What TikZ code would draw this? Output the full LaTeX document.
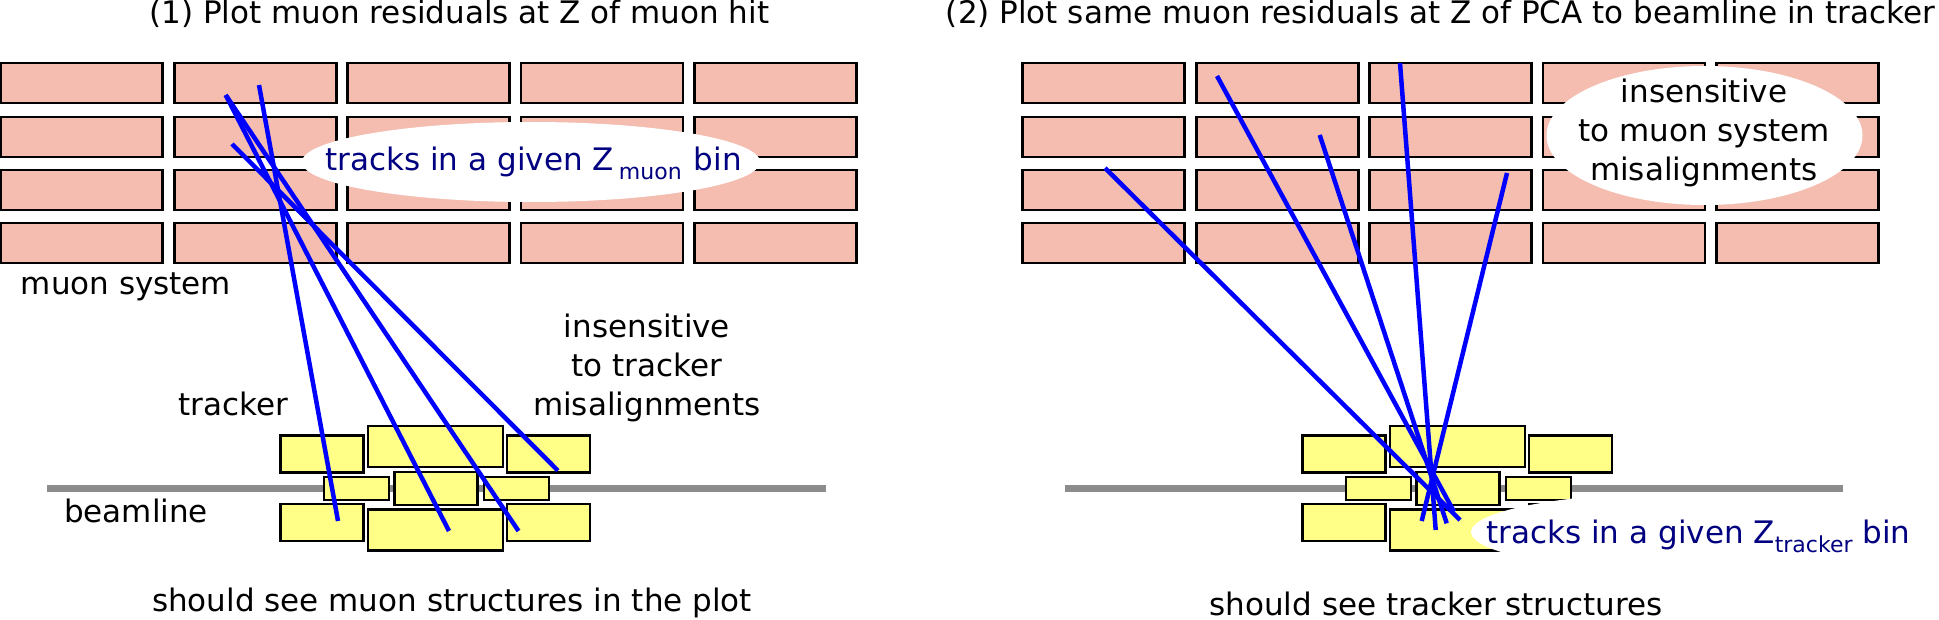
\documentclass[tikz,border=0pt]{standalone}
\usepackage{fontspec}
\usetikzlibrary{shapes.geometric}
\setmainfont{DejaVu Sans}
\definecolor{muonred}{HTML}{F4BDB0}
\definecolor{trackeryellow}{HTML}{FFFF88}
\definecolor{binblue}{HTML}{000080}
\newcommand{\binsub}[1]{\raisebox{-9pt}{\fontsize{22}{22}\selectfont #1}}
\begin{document}
\begin{tikzpicture}[x=1pt,y=-1pt,
    muonbox/.style={rectangle, draw, line width=2.2pt, fill=muonred, minimum width=162pt, minimum height=40pt, inner sep=0pt},
    trackerbox/.style={rectangle, draw, line width=2.2pt, fill=trackeryellow, inner sep=0pt},
    track/.style={blue, line width=4.5pt},
    blob/.style={ellipse, fill=white, inner sep=0pt},
    label/.style={font=\fontsize{31}{39}\selectfont, align=center, inner sep=0pt, anchor=base},
    binlabel/.style={label, text=binblue}
]
\useasboundingbox (0,0) rectangle (1939,620);

\foreach \row/\ypos in {1/83,2/137,3/190,4/243}
  \foreach \col/\xpos in {1/81.5,2/255.5,3/428.5,4/602,5/775.5}
    \node[muonbox] (ml\row\col) at (\xpos,\ypos) {};
\foreach \row/\ypos in {1/83,2/137,3/190,4/243}
  \foreach \col/\xpos in {1/1103.5,2/1277.5,3/1450.5,4/1624,5/1797.5}
    \node[muonbox] (mr\row\col) at (\xpos,\ypos) {};

\draw[line width=6.5pt, gray!90] (47,488.5) -- (826,488.5);
\draw[line width=6.5pt, gray!90] (1065,488.5) -- (1843,488.5);

\node[trackerbox, minimum width=83pt, minimum height=37pt] (ta) at (322,454) {};
\node[trackerbox, minimum width=135pt, minimum height=41pt] (tb) at (435.5,446.5) {};
\node[trackerbox, minimum width=83pt, minimum height=37pt] (tc) at (548.5,454) {};
\node[trackerbox, minimum width=65pt, minimum height=23pt] (td) at (356.5,488.5) {};
\node[trackerbox, minimum width=83pt, minimum height=33pt] (te) at (436,488.5) {};
\node[trackerbox, minimum width=65pt, minimum height=23pt] (tf) at (516.5,488.5) {};
\node[trackerbox, minimum width=83pt, minimum height=37pt] (tg) at (322,522.5) {};
\node[trackerbox, minimum width=135pt, minimum height=41pt] (th) at (435.5,530) {};
\node[trackerbox, minimum width=83pt, minimum height=37pt] (ti) at (548.5,522.5) {};

\node[trackerbox, minimum width=83pt, minimum height=37pt] (ua) at (1344,454) {};
\node[trackerbox, minimum width=135pt, minimum height=41pt] (ub) at (1457.5,446.5) {};
\node[trackerbox, minimum width=83pt, minimum height=37pt] (uc) at (1570.5,454) {};
\node[trackerbox, minimum width=65pt, minimum height=23pt] (ud) at (1378.5,488.5) {};
\node[trackerbox, minimum width=83pt, minimum height=33pt] (ue) at (1458,488.5) {};
\node[trackerbox, minimum width=65pt, minimum height=23pt] (uf) at (1538.5,488.5) {};
\node[trackerbox, minimum width=83pt, minimum height=37pt] (ug) at (1344,522.5) {};
\node[trackerbox, minimum width=135pt, minimum height=41pt] (uh) at (1457.5,530) {};
\node[trackerbox, minimum width=83pt, minimum height=37pt] (ui) at (1570.5,522.5) {};

\node[blob, minimum width=458pt, minimum height=80pt] (binl) at (531,162) {};
\node[blob, minimum width=316pt, minimum height=139pt] (blobr) at (1704.5,135.5) {};
\node[blob, minimum width=450pt, minimum height=80pt] (binr) at (1696,532) {};

\coordinate (la) at (259,85); \coordinate (lb) at (338,521);
\coordinate (lc) at (225.7,95);   \coordinate (ld) at (449,531);
\coordinate (le) at (225.7,95);   \coordinate (lf) at (518.5,531);
\coordinate (lg) at (232,144);    \coordinate (lh) at (558,470.7);
\draw[track] (la) -- (lb);
\draw[track] (lc) -- (ld);
\draw[track] (le) -- (lf);
\draw[track] (lg) -- (lh);

\coordinate (ra) at (1105,168);   \coordinate (rb) at (1460,520);
\coordinate (rc) at (1217,76);    \coordinate (rd) at (1454,511.7);
\coordinate (re) at (1319.7,135); \coordinate (rf) at (1446.7,523.3);
\coordinate (rg) at (1400,63);    \coordinate (rh) at (1435.7,530);
\coordinate (ri) at (1507,173);   \coordinate (rj) at (1421.7,521);
\draw[track] (ra) -- (rb);
\draw[track] (rc) -- (rd);
\draw[track] (re) -- (rf);
\draw[track] (rg) -- (rh);
\draw[track] (ri) -- (rj);

\node[label] (titlel) at (459.4,24) {(1) Plot muon residuals at Z of muon hit};
\node[label] (titler) at (1440.5,24) {(2) Plot same muon residuals at Z of PCA to beamline in tracker};
\node[binlabel] (textl) at (533.6,171) {tracks in a given Z\,\binsub{muon}\hspace{12pt}bin};
\node[label, anchor=center] (textr) at (1704,132.8) {insensitive\\to muon system\\misalignments};
\node[binlabel] (textb) at (1698.5,543) {tracks in a given Z\binsub{tracker}\hspace{10pt}bin};
\node[label] (muonsys) at (126,295) {muon system};
\node[label] (tracker) at (233,415) {tracker};
\node[label] (beam) at (136,522) {beamline};
\node[label, anchor=center] (insens) at (647,367.8) {insensitive\\to tracker\\misalignments};
\node[label] (seel) at (452,611.7) {should see muon structures in the plot};
\node[label] (seer) at (1436,615) {should see tracker structures};
\end{tikzpicture}
\end{document}
